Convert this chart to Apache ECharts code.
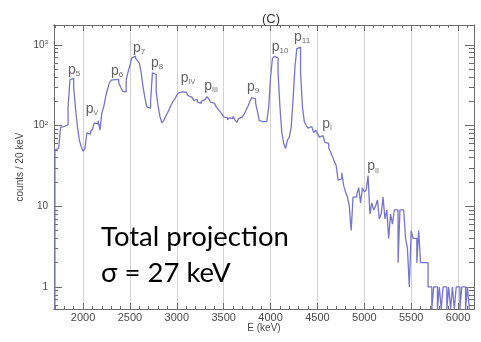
<!DOCTYPE html>
<html>
<head>
<meta charset="utf-8">
<script src="https://cdn.jsdelivr.net/npm/echarts@6/dist/echarts.min.js"></script>
<style>
html, body { margin: 0; padding: 0; background: #fff; }
#chart { width: 481px; height: 342px; }
</style>
</head>
<body>
<div id="chart"></div>
<script>
// Energy binning of the projected spectrum (keV)
const binStart = 1700;
const binWidth = 20;

// Counts per 20 keV bin, first bin starts at binStart (10 bins = 200 keV per row)
const counts = [
  50, 52, 50, 95, 98, 100, 102, 170, 370, 385,      // 1700
  300, 160, 96, 66, 55, 48, 52, 81, 78, 85,         // 1900
  90, 108, 104, 115, 88, 143, 170, 225, 280, 335,   // 2100
  367, 372, 360, 375, 340, 300, 268, 262, 370, 460, // 2300
  560, 690, 725, 680, 640, 600, 450, 300, 220, 170, // 2500
  165, 200, 450, 430, 260, 175, 130, 108, 115, 130, // 2700
  143, 160, 180, 200, 215, 240, 255, 262, 266, 260, // 2900
  258, 235, 225, 220, 205, 210, 195, 188, 200, 210, // 3100
  215, 228, 215, 195, 190, 180, 172, 160, 150, 140, // 3300
  128, 125, 118, 125, 122, 130, 118, 110, 122, 128, // 3500
  135, 140, 156, 175, 200, 222, 215, 190, 150, 115, // 3700
  112, 110, 112, 115, 170, 400, 680, 720, 690, 450, // 3900
  170, 82, 60, 52, 66, 72, 96, 210, 530, 900,       // 4100
  940, 450, 170, 112, 100, 93, 97, 96, 82, 88,      // 4300
  80, 72, 75, 76, 62, 60, 53, 47, 41, 36,           // 4500
  32, 21, 22, 26, 18, 15, 13, 10, 5, 13,            // 4700
  13, 14, 17, 11, 17, 15, 16, 24, 8, 11,            // 4900
  9, 10, 12, 7, 8, 13, 7, 9, 4, 8,                  // 5100
  6, 9, 9, 2, 9, 9, 9, 4, 3, 1,                     // 5300
  5, 4, 4, 2, 5, 2, 2, 2, 2, 1,                     // 5500
  1, 0, 1, 1, 0, 1, 0, 1, 1, 0,                     // 5700
  1, 0, 1, 0, 1, 1, 0, 1, 1, 0,                     // 5900
  1                                                 // 6100
];

// Labelled ticks
const energyTicks = [2000, 2500, 3000, 3500, 4000, 4500, 5000, 5500, 6000];
const countTicks = [1, 10, 100, 1000];

// Peak identifiers and the energies they sit at
const peakNames = ['5', 'V', '6', '7', '8', 'IV', 'III', '9', '10', '11', 'I', 'II'];
const peakEnergies = [1904, 2096, 2363, 2597, 2789, 3120, 3365, 3813, 4101, 4336, 4603, 5093];

// Height (in counts) at which each peak name is written
const peakLabelHeights = [489, 161, 475, 915, 597, 389, 310, 301, 942, 1253, 105, 31];

// Plot ranges
const E_MIN = 1690, E_MAX = 6170;
const Y_MIN = 0.533, Y_MAX = 1765;

const FONT = '"Liberation Sans", Arial, sans-serif';
const FRAME = '#6a6a6a';
const TICK_TXT = '#4a4a4a';
const LINE = '#7676c9';
const NOTE_FONT = '27.5px "Lato", "Open Sans", sans-serif';

// Minor ticks: every 100 keV, and 2..9 within each decade
const energyMinor = [];
for (let e = 1700; e <= 6100; e += 100) if (e % 500 !== 0) energyMinor.push(e);
const countMinor = [];
[0.1, 1, 10, 100, 1000].forEach(d => { for (let k = 2; k <= 9; k++) countMinor.push(+(k * d).toPrecision(3)); });

// Histogram outline: rises from the floor at the first edge and falls back after the last bin
const steps = [[binStart, Y_MIN]];
counts.forEach((c, i) => steps.push([binStart + i * binWidth, c > 0 ? c : Y_MIN]));
steps.push([binStart + counts.length * binWidth, Y_MIN]);

const peakPoints = peakNames.map((n, i) => ({ name: n, value: [peakEnergies[i], peakLabelHeights[i]] }));

function xAxisDef(position, ticks, len, extra) {
  return Object.assign({
    type: 'value', position: position, min: E_MIN, max: E_MAX,
    axisLine: { show: true, onZero: false, lineStyle: { color: FRAME, width: 1 } },
    axisTick: { show: true, inside: true, length: len, customValues: ticks, lineStyle: { color: FRAME, width: 1 } },
    axisLabel: { show: false },
    splitLine: { show: false }
  }, extra || {});
}
function yAxisDef(position, ticks, len, extra) {
  return Object.assign({
    type: 'log', logBase: 10, position: position, min: Y_MIN, max: Y_MAX,
    axisLine: { show: true, onZero: false, lineStyle: { color: FRAME, width: 1 } },
    axisTick: { show: true, inside: true, length: len, customValues: ticks, lineStyle: { color: FRAME, width: 1 } },
    axisLabel: { show: false },
    splitLine: { show: false }
  }, extra || {});
}

const chart = echarts.init(document.getElementById('chart'), null, { renderer: 'canvas' });

chart.setOption({
  animation: false,
  backgroundColor: '#fff',
  title: {
    text: '(C)', left: 257, top: 8,
    textStyle: { fontSize: 13, fontWeight: 'normal', color: '#333', fontFamily: FONT }
  },
  grid: { left: 54, right: 7, top: 25, bottom: 33, containLabel: false },
  xAxis: [
    xAxisDef('bottom', energyTicks, 6, {
      axisLabel: {
        show: true, customValues: energyTicks, margin: 3, fontSize: 11, color: TICK_TXT, fontFamily: FONT,
        formatter: v => String(Math.round(v))
      },
      splitLine: { show: true, lineStyle: { color: '#d2d2d2', width: 1 } },
      name: 'E (keV)', nameLocation: 'middle', nameGap: 14, nameMoveOverlap: false,
      nameTextStyle: { fontSize: 10, color: TICK_TXT, fontFamily: FONT, verticalAlign: 'top' }
    }),
    xAxisDef('bottom', energyMinor, 3),
    xAxisDef('top', energyTicks, 6),
    xAxisDef('top', energyMinor, 3)
  ],
  yAxis: [
    yAxisDef('left', countTicks, 8, {
      axisLabel: {
        show: true, customValues: countTicks, margin: 6, fontSize: 10, color: TICK_TXT, fontFamily: FONT,
        formatter: v => v >= 100 ? '{b|10}{s|' + Math.round(Math.log10(v)) + '}' : String(Math.round(v)),
        rich: {
          b: { fontSize: 10, color: TICK_TXT, fontFamily: FONT },
          s: { fontSize: 6, color: TICK_TXT, fontFamily: FONT, verticalAlign: 'top', padding: [0, 0, 5, 0] }
        }
      },
      name: 'counts / 20 keV', nameLocation: 'middle', nameGap: 29, nameMoveOverlap: false,
      nameTextStyle: { fontSize: 10, color: TICK_TXT, fontFamily: FONT }
    }),
    yAxisDef('left', countMinor, 4),
    yAxisDef('right', countTicks, 9),
    yAxisDef('right', countMinor, 5)
  ],
  series: [
    {
      type: 'line', name: 'projection', xAxisIndex: 0, yAxisIndex: 0,
      step: 'end', data: steps, showSymbol: false, symbol: 'none',
      lineStyle: { color: LINE, width: 1.3 }, clip: true, z: 3
    },
    {
      type: 'scatter', name: 'peaks', xAxisIndex: 0, yAxisIndex: 0,
      data: peakPoints, symbolSize: 0, silent: true, z: 4,
      label: {
        show: true, position: 'inside',
        // Arabic subscripts are a little larger than the Roman ones
        formatter: p => '{p|p}{' + (/^[IV]+$/.test(p.name) ? 'r' : 's') + '|' + p.name + '}',
        rich: {
          p: { fontSize: 14, color: '#3a3a3a', fontFamily: FONT, lineHeight: 16 },
          s: { fontSize: 8, color: '#3a3a3a', fontFamily: FONT, verticalAlign: 'bottom', lineHeight: 16, padding: [6, 0, 0, 0] },
          r: { fontSize: 7, color: '#3a3a3a', fontFamily: FONT, verticalAlign: 'bottom', lineHeight: 16, padding: [6, 0, 0, 0] }
        }
      }
    }
  ],
  graphic: [
    {
      type: 'text', left: 101, top: 223, z: 10,
      style: { text: 'Total projection', font: NOTE_FONT, fill: '#000' }
    },
    {
      type: 'text', left: 101, top: 259, z: 10,
      style: { text: 'σ = 27 keV', font: NOTE_FONT, fill: '#000' }
    }
  ]
});
</script>
</body>
</html>
